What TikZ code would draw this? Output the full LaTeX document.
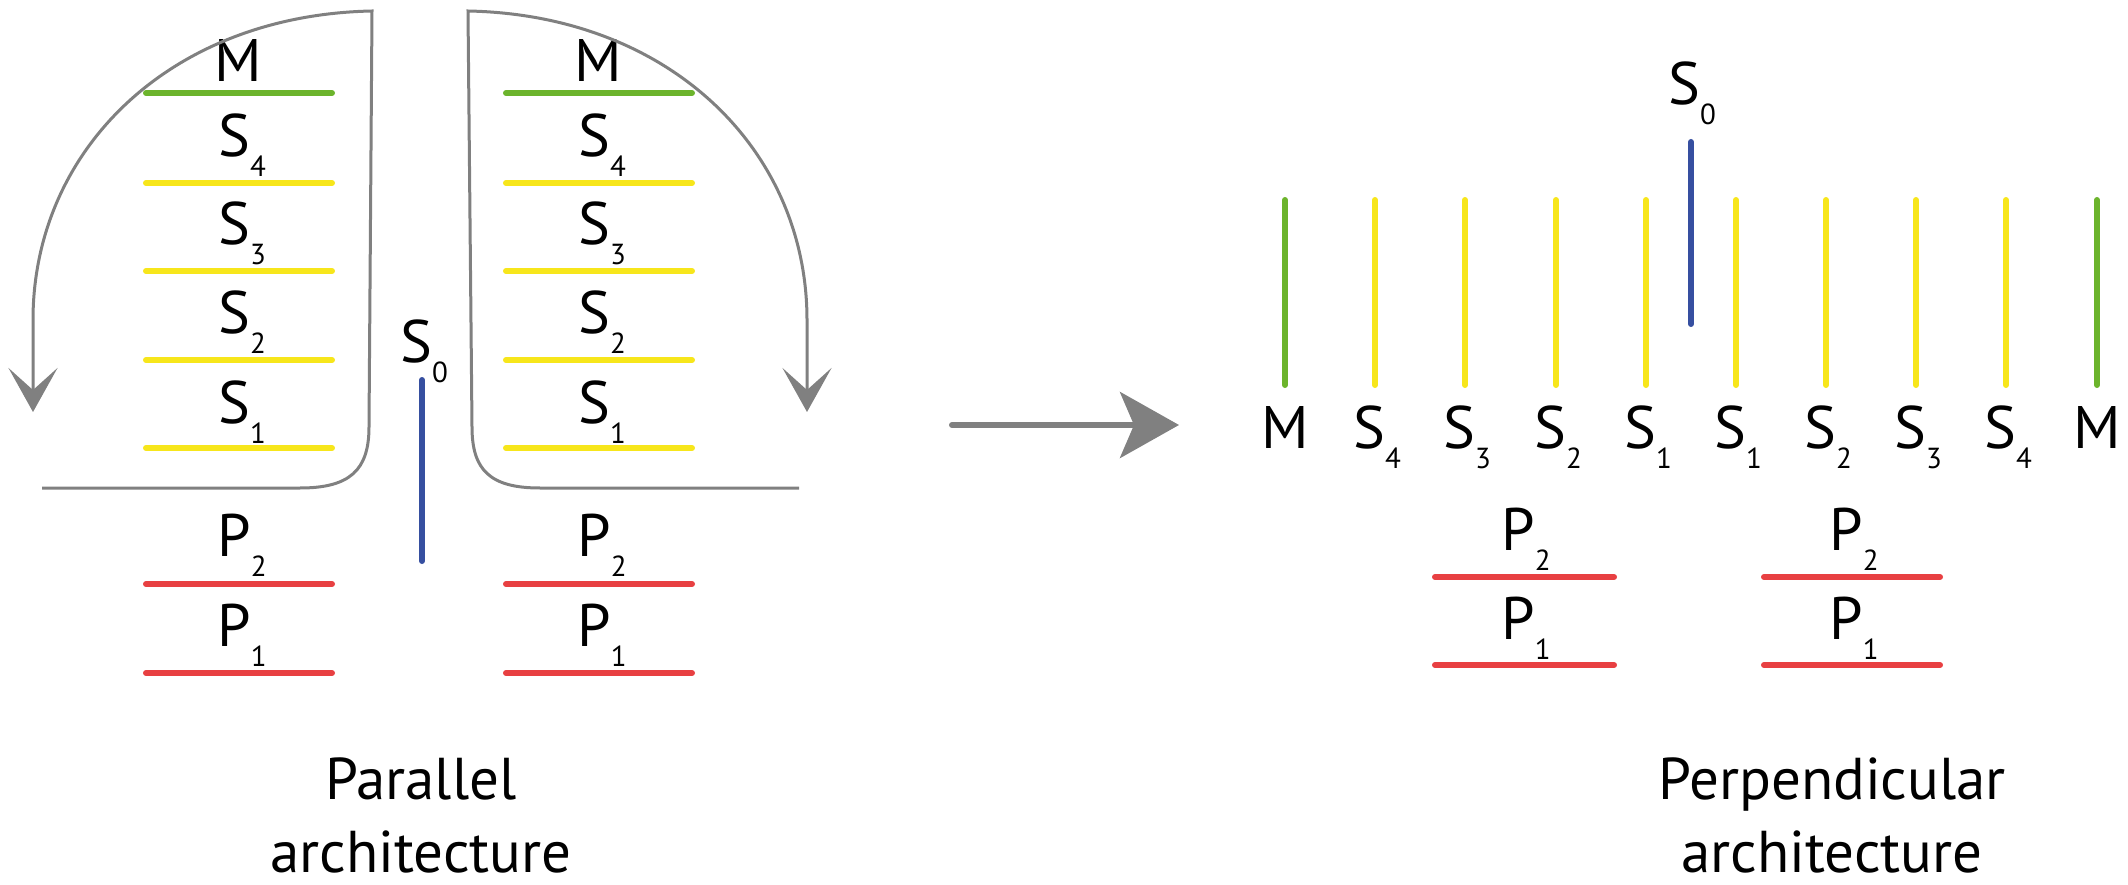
\documentclass[tikz,border=0pt]{standalone}
\usepackage{fontspec}
\setmainfont{PT Sans}
\usetikzlibrary{arrows.meta}
\definecolor{cgray}{RGB}{128,128,128}
\definecolor{cgreen}{RGB}{108,180,44}
\definecolor{cyellow}{RGB}{247,230,27}
\definecolor{cred}{RGB}{232,64,66}
\definecolor{cblue}{RGB}{54,79,160}
\newcommand{\labfont}{\fontsize{60}{60}\selectfont}
\newcommand{\sublbl}[2]{#1\raisebox{-20pt}{\fontsize{29}{29}\selectfont #2}}
\begin{document}
\begin{tikzpicture}[x=1pt,y=-1pt,
  layer/.style={line width=6pt,line cap=round},
  outline/.style={draw=cgray,line width=3pt},
  lbl/.style={inner sep=0pt,anchor=base,font=\labfont},
  captxt/.style={inner sep=0pt,anchor=base,font=\fontsize{59}{73}\selectfont,align=center},
  sidetip/.style={-{Stealth[length=44pt,width=49pt,inset=22pt]}},
]
\useasboundingbox (0,0) rectangle (2128,885);

% ---------- parallel architecture: stacked layers ----------
\foreach \bx/\xa/\xb in {A/146/332, B/506/692}{
  \foreach \yy/\col in {93/cgreen, 183/cyellow, 271/cyellow, 360/cyellow, 448/cyellow, 584/cred, 673/cred}
    \draw[layer,\col] (\xa,\yy) -- (\xb,\yy);
}
\foreach \bx/\xc in {A/240, B/600}{
  \node[lbl] (\bx-M)  at (\xc-2,82)  {M};
  \node[lbl] (\bx-S4) at (\xc+2,157) {\sublbl{S}{4}};
  \node[lbl] (\bx-S3) at (\xc+2,245) {\sublbl{S}{3}};
  \node[lbl] (\bx-S2) at (\xc+2,334) {\sublbl{S}{2}};
  \node[lbl] (\bx-S1) at (\xc+2,423) {\sublbl{S}{1}};
  \node[lbl] (\bx-P2) at (\xc+2,556) {\sublbl{P}{2}};
  \node[lbl] (\bx-P1) at (\xc+2,646) {\sublbl{P}{1}};
}
% S0 of the parallel architecture
\draw[layer,cblue] (422,380) -- (422,561);
\node[lbl] (S0L) at (424,362) {\sublbl{S}{0}};

% folding outlines with arrows
\coordinate (Lend) at (33,412);
\coordinate (Rend) at (807,412);
\draw[outline,sidetip] (42,488) -- (300,488) .. controls (350,488) and (369,470) .. (369,427)
  -- (372,11) .. controls (170,15) and (33,150) .. (33,320) -- (Lend);
\draw[outline,sidetip] (799,488) -- (540,488) .. controls (490,488) and (472,470) .. (472,427)
  -- (468,11) .. controls (670,15) and (807,150) .. (807,320) -- (Rend);

% ---------- transformation arrow ----------
\coordinate (Mstart) at (952,425);
\coordinate (Mend) at (1179,425);
\draw[cgray,line width=6pt,line cap=round,-{Stealth[length=59pt,width=66pt,inset=14pt]}] (Mstart) -- (Mend);

% ---------- perpendicular architecture ----------
\foreach \nm/\xx/\col in {Ma/1285/cgreen, S4a/1375/cyellow, S3a/1465/cyellow, S2a/1556/cyellow, S1a/1646/cyellow,
                          S1b/1736/cyellow, S2b/1826/cyellow, S3b/1916/cyellow, S4b/2006/cyellow, Mb/2097/cgreen}
  \draw[layer,\col] (\xx,200) -- (\xx,385);
\node[lbl] (V-Ma)  at (1285,448) {M};
\node[lbl] (V-S4a) at (1377,448) {\sublbl{S}{4}};
\node[lbl] (V-S3a) at (1467,448) {\sublbl{S}{3}};
\node[lbl] (V-S2a) at (1558,448) {\sublbl{S}{2}};
\node[lbl] (V-S1a) at (1648,448) {\sublbl{S}{1}};
\node[lbl] (V-S1b) at (1738,448) {\sublbl{S}{1}};
\node[lbl] (V-S2b) at (1828,448) {\sublbl{S}{2}};
\node[lbl] (V-S3b) at (1918,448) {\sublbl{S}{3}};
\node[lbl] (V-S4b) at (2008,448) {\sublbl{S}{4}};
\node[lbl] (V-Mb)  at (2097,448) {M};

\draw[layer,cblue] (1691,142) -- (1691,324);
\node[lbl] (S0R) at (1692,105) {\sublbl{S}{0}};

\foreach \xa/\xb in {1435/1614, 1764/1940}{
  \draw[layer,cred] (\xa,577) -- (\xb,577);
  \draw[layer,cred] (\xa,665) -- (\xb,665);
}
\node[lbl] (R-P2a) at (1526,550) {\sublbl{P}{2}};
\node[lbl] (R-P1a) at (1526,639) {\sublbl{P}{1}};
\node[lbl] (R-P2b) at (1854,550) {\sublbl{P}{2}};
\node[lbl] (R-P1b) at (1854,639) {\sublbl{P}{1}};

% ---------- captions (anchor base = baseline of the last line) ----------
\node[captxt] (capL) at (421,872) {Parallel\\architecture};
\node[captxt] (capR) at (1832,872) {Perpendicular\\architecture};
\end{tikzpicture}
\end{document}
